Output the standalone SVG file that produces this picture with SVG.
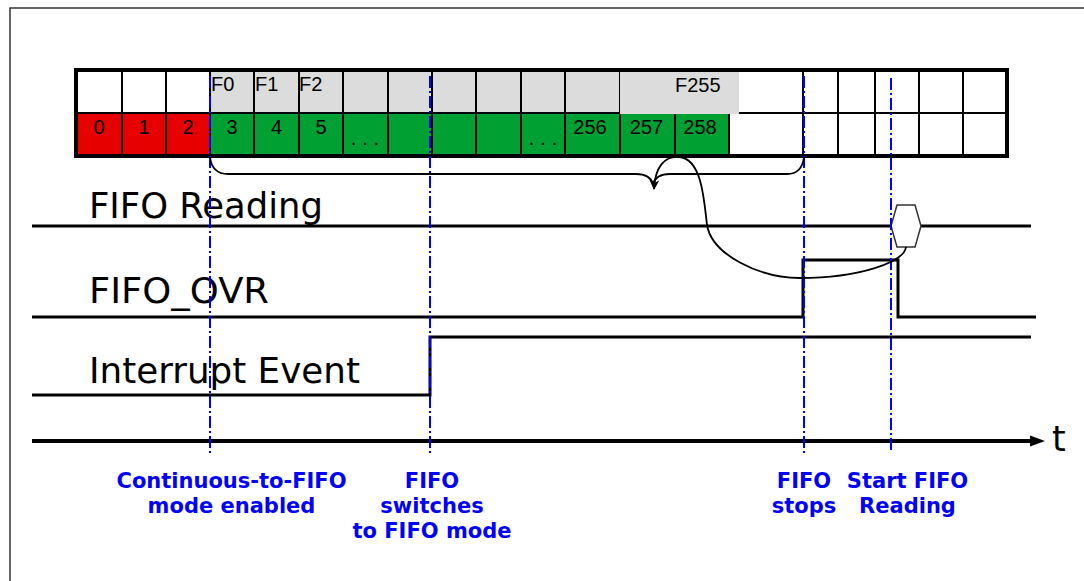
<svg xmlns="http://www.w3.org/2000/svg" width="1084" height="581" viewBox="0 0 1084 581">
<style>
.cell{font-family:"Liberation Sans",Arial,sans-serif;font-size:20px;fill:#000}
.mid{text-anchor:middle}
.grid{stroke:#000;stroke-width:2;fill:none}
.sig{stroke:#000;stroke-width:3;fill:none}
.lbl{font-family:"DejaVu Sans",Verdana,sans-serif;font-size:35px;fill:#000}
.ev{font-family:"DejaVu Sans",Verdana,sans-serif;font-weight:bold;font-size:21px;fill:#0000ff;text-anchor:middle}
.mark{stroke:#0000ff;stroke-width:2;stroke-dasharray:12 3 2 3;fill:none}
.conn{stroke:#000;stroke-width:1.8;fill:none}
</style>
<defs>
<marker id="ah" markerWidth="10" markerHeight="10" refX="9" refY="5" orient="auto" markerUnits="userSpaceOnUse">
<path d="M0,0 L10,5 L0,10 L3,5 Z" fill="#000"/>
</marker>
</defs>
<rect x="10" y="8" width="1100" height="600" fill="#fff" stroke="#333" stroke-width="1.5"/>

<g id="fifo-table">
<rect x="76" y="113" width="134" height="43" fill="#e60000"/>
<rect x="210" y="113" width="519" height="43" fill="#00a032"/>
<rect x="210" y="70" width="529" height="43" fill="#dcdcdc"/>
<path class="grid" d="M76,113 H1007 M122,70 V156 M166,70 V156 M210,70 V156 M254,70 V156 M299,70 V156 M343,70 V156 M388,70 V156 M432,70 V156 M476,70 V156 M521,70 V156 M565,70 V156 M620,70 V156 M675,113 V156 M729,113 V156 M803,70 V156 M838,70 V156 M875,70 V156 M919,70 V156 M963,70 V156"/>
<rect x="620" y="71" width="119" height="43" fill="#dcdcdc"/>
<rect x="76" y="70" width="931" height="86" fill="none" stroke="#000" stroke-width="4"/>
<text class="cell" x="211" y="91">F0</text>
<text class="cell" x="255" y="91">F1</text>
<text class="cell" x="299" y="91">F2</text>
<text class="cell" x="675" y="92">F255</text>
<text class="cell mid" x="99" y="134">0</text>
<text class="cell mid" x="144" y="134">1</text>
<text class="cell mid" x="188" y="134">2</text>
<text class="cell mid" x="232" y="134">3</text>
<text class="cell mid" x="276.5" y="134">4</text>
<text class="cell mid" x="321" y="134">5</text>
<text class="cell mid" x="368" y="145" letter-spacing="6">...</text>
<text class="cell mid" x="546" y="145" letter-spacing="6">...</text>
<text class="cell mid" x="590" y="134">256</text>
<text class="cell mid" x="646.5" y="134">257</text>
<text class="cell mid" x="700" y="134">258</text>
</g>

<g id="fifo-reading">
<text class="lbl" x="89" y="218" textLength="234" lengthAdjust="spacingAndGlyphs">FIFO Reading</text>
<path class="sig" d="M32,226 H891 M921,226 H1031"/>
<polygon points="891,226 897,205 915,205 921,226 915,247 897,247" fill="#fff" stroke="#333" stroke-width="1.5"/>
</g>

<g id="fifo-ovr">
<text class="lbl" x="89" y="303" textLength="180" lengthAdjust="spacingAndGlyphs">FIFO_OVR</text>
<path class="sig" d="M32,317 H803 V260 H898 V317 H1036"/>
</g>

<g id="interrupt-event">
<text class="lbl" x="89" y="383" textLength="271" lengthAdjust="spacingAndGlyphs">Interrupt Event</text>
<path class="sig" d="M32,395 H430 V337 H1031"/>
</g>

<g id="time-axis">
<line x1="32" y1="441" x2="1034" y2="441" stroke="#000" stroke-width="4"/>
<polygon points="1030,435.5 1045,441 1030,446.5" fill="#000"/>
<text class="lbl" x="1052" y="451">t</text>
</g>

<g id="markers">
<line class="mark" x1="210" y1="76" x2="210" y2="453"/>
<line class="mark" x1="430" y1="76" x2="430" y2="453"/>
<line class="mark" x1="804" y1="76" x2="804" y2="453"/>
<line class="mark" x1="891" y1="78" x2="891" y2="453"/>
</g>

<g id="event-labels">
<g id="ev-continuous">
<text class="ev" x="231.5" y="488">Continuous-to-FIFO</text>
<text class="ev" x="231.5" y="513">mode enabled</text>
</g>
<g id="ev-switch">
<text class="ev" x="432" y="488">FIFO</text>
<text class="ev" x="432" y="513">switches</text>
<text class="ev" x="432" y="538">to FIFO mode</text>
</g>
<g id="ev-stops">
<text class="ev" x="804" y="488">FIFO</text>
<text class="ev" x="804" y="513">stops</text>
</g>
<g id="ev-start">
<text class="ev" x="907.5" y="488">Start FIFO</text>
<text class="ev" x="907.5" y="513">Reading</text>
</g>
</g>

<g id="connectors">
<path class="conn" d="M210,157 Q212,174 228,174 H636 Q650,174 653,184 Q656,174 670,174 H787 Q802,174 804,157"/>
<path class="conn" marker-end="url(#ah)" d="M906,247 C904,262 860,278 800,278 C760,278 712,255 707,225 C704,200 702,160 680,157 C664,155 655,168 654,189"/>
</g>
</svg>
